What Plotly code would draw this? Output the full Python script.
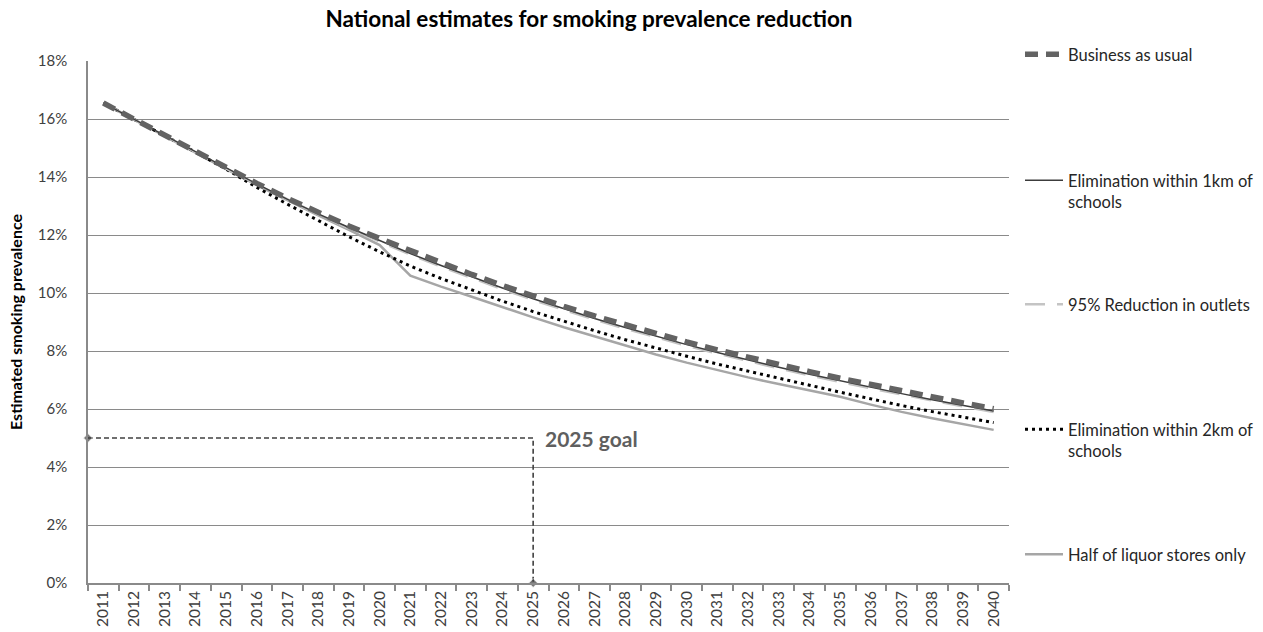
import plotly.graph_objects as go

# Projection years
years = list(range(2011, 2041))

# Estimated smoking prevalence (%) under each scenario
business_as_usual = [16.55, 15.99, 15.42, 14.86, 14.31, 13.78, 13.26, 12.77, 12.31, 11.88,
                     11.45, 11.04, 10.64, 10.26, 9.89, 9.54, 9.21, 8.90, 8.60, 8.31,
                     8.04, 7.78, 7.53, 7.29, 7.06, 6.84, 6.62, 6.41, 6.21, 6.01]
elim_1km = [16.55, 15.99, 15.42, 14.86, 14.30, 13.76, 13.23, 12.73, 12.26, 11.81,
            11.36, 10.95, 10.55, 10.17, 9.80, 9.45, 9.12, 8.81, 8.51, 8.22,
            7.95, 7.69, 7.44, 7.20, 6.97, 6.75, 6.53, 6.32, 6.12, 5.93]
reduction_95 = [16.55, 15.98, 15.41, 14.85, 14.29, 13.75, 13.22, 12.71, 12.23, 11.77,
                11.32, 10.91, 10.51, 10.13, 9.76, 9.41, 9.08, 8.77, 8.47, 8.18,
                7.91, 7.65, 7.40, 7.16, 6.93, 6.71, 6.50, 6.29, 6.09, 5.90]
elim_2km = [16.55, 15.99, 15.42, 14.86, 14.27, 13.64, 13.06, 12.49, 11.94, 11.42,
            10.93, 10.50, 10.10, 9.72, 9.36, 9.02, 8.70, 8.39, 8.10, 7.82,
            7.55, 7.30, 7.06, 6.82, 6.58, 6.34, 6.12, 5.91, 5.71, 5.53]
half_liquor = [16.55, 15.98, 15.40, 14.83, 14.27, 13.72, 13.19, 12.68, 12.18, 11.65,
               10.60, 10.22, 9.87, 9.51, 9.16, 8.82, 8.50, 8.19, 7.88, 7.60,
               7.34, 7.09, 6.86, 6.65, 6.42, 6.15, 5.90, 5.68, 5.48, 5.28]

# Target
goal_year = 2025
goal_value = 5

FONT = "Lato"
W, H = 1263, 632
L, R, T, B = 88, 254, 61, 49
PLOT_W = W - L - R
PLOT_H = H - T - B


def paper_x(px):
    return (px - L) / PLOT_W


def paper_y(py):
    return (H - B - py) / PLOT_H


fig = go.Figure()

# name, values, colour, width, dash, legend id, legend text
series = [
    ("Half of liquor stores only", half_liquor, "#a6a6a6", 2.5, "solid", "legend5",
     "Half of liquor stores only"),
    ("Elimination within 2km of schools", elim_2km, "#000000", 3, "3px,4px", "legend4",
     "Elimination within 2km of<br>schools"),
    ("95% Reduction in outlets", reduction_95, "#c4c4c4", 2.5, "20px,12px", "legend3",
     "95% Reduction in outlets"),
    ("Elimination within 1km of schools", elim_1km, "#3c3c3c", 1.5, "solid", "legend2",
     "Elimination within 1km of<br>schools"),
    ("Business as usual", business_as_usual, "#636363", 5.5, "13px,8px", "legend",
     "Business as usual"),
]

for name, vals, color, width, dash, leg, label in series:
    fig.add_trace(go.Scatter(
        x=years, y=vals, mode="lines", name=label,
        line=dict(color=color, width=width, dash=dash),
        legend=leg, hoverinfo="skip",
    ))

# 2025 goal guide
x_start = years[0] - 0.5
fig.add_trace(go.Scatter(
    x=[x_start, goal_year, goal_year], y=[goal_value, goal_value, 0],
    mode="lines+markers",
    line=dict(color="#404040", width=1.6, dash="5px,3px"),
    marker=dict(symbol="diamond", size=[7, 0, 7], color="#404040"),
    showlegend=False, cliponaxis=False, hoverinfo="skip",
))
fig.add_annotation(
    x=goal_year, y=goal_value, xref="x", yref="y", text="<b>2025 goal</b>",
    showarrow=False, xanchor="left", yanchor="middle", xshift=10,
    font=dict(family=FONT, size=21, color="#5f5f5f"),
)

legend_tops = {"legend": 37, "legend2": 163, "legend3": 287, "legend4": 412, "legend5": 537}
legend_common = dict(
    x=paper_x(1020), xanchor="left", yanchor="top", bgcolor="rgba(0,0,0,0)",
    font=dict(family=FONT, size=16.5, color="#262626"), valign="top", itemwidth=38,
)
legend_layout = {k: dict(legend_common, y=paper_y(v)) for k, v in legend_tops.items()}

fig.update_layout(
    width=W, height=H,
    margin=dict(l=L, r=R, t=T, b=B, autoexpand=False),
    paper_bgcolor="white", plot_bgcolor="white",
    title=dict(
        text="<b>National estimates for smoking prevalence reduction</b>",
        x=589 / W, xanchor="center", y=1 - 19 / H, yanchor="middle",
        font=dict(family=FONT, size=22.5, color="#000000"),
    ),
    font=dict(family=FONT, color="#404040"),
    xaxis=dict(
        range=[years[0] - 0.5, years[-1] + 0.5],
        tickmode="linear", tick0=years[0], dtick=1, tickformat="d",
        tickangle=-90, ticks="", showgrid=False, zeroline=False,
        showline=True, linecolor="#8a8a8a", linewidth=1.5,
        tickfont=dict(family=FONT, size=15.5, color="#404040"),
        minor=dict(tick0=years[0] - 0.5, dtick=1, ticks="outside", ticklen=6,
                   tickcolor="#8a8a8a", tickwidth=1.5, showgrid=False),
        fixedrange=True,
    ),
    yaxis=dict(
        range=[0, 18], tickmode="linear", tick0=0, dtick=2, ticksuffix="%",
        showgrid=True, gridcolor="#8a8a8a", gridwidth=1, zeroline=False,
        showline=True, linecolor="#8a8a8a", linewidth=1.5,
        ticklabelstandoff=16,
        tickfont=dict(family=FONT, size=15, color="#404040"),
        title=dict(text="<b>Estimated smoking prevalence</b>", standoff=11,
                   font=dict(family=FONT, size=16, color="#000000")),
        automargin=False, fixedrange=True,
    ),
    **legend_layout,
)

fig.write_html("out.html")
